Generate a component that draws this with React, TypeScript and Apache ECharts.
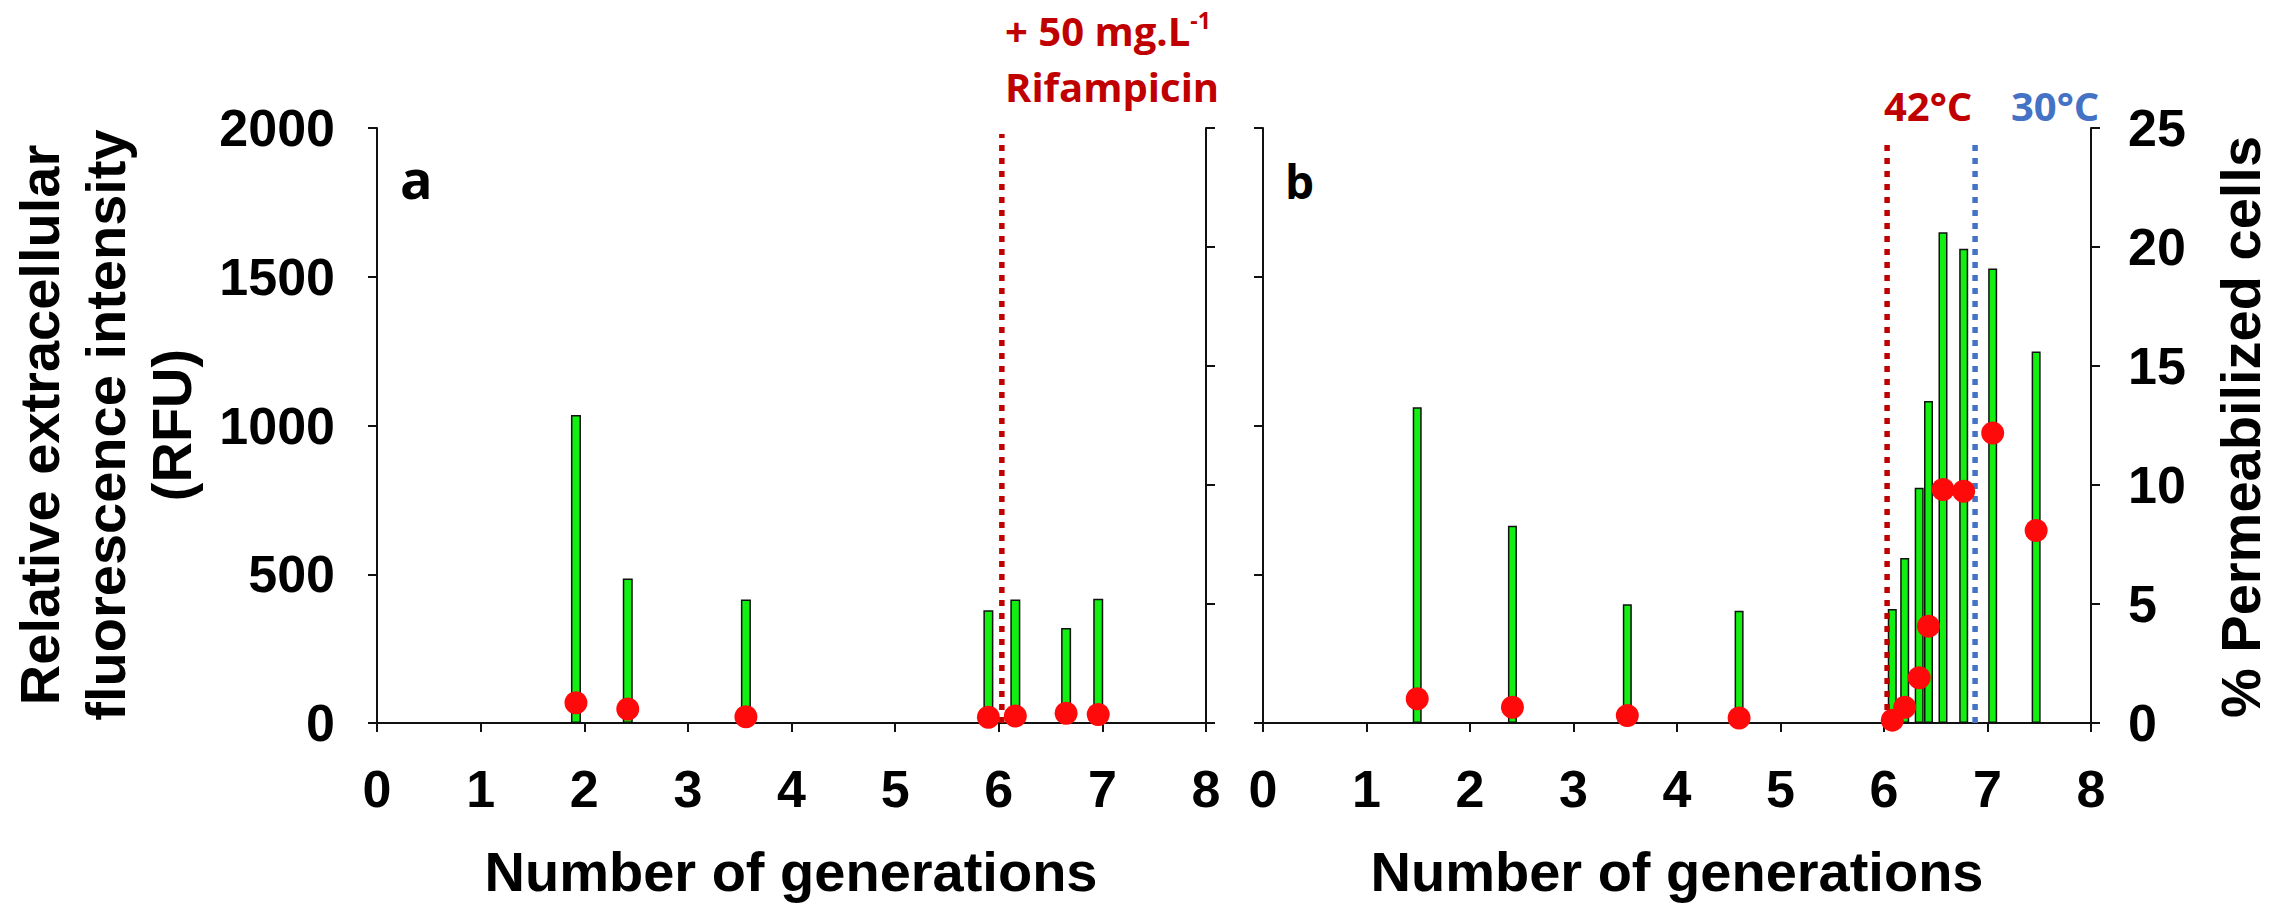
import React, { useEffect, useRef } from "react";
import * as echarts from "echarts";

// ---- data ----
const xTickMin = 0;
const xTickMax = 8;
const xTickStep = 1;
const rfuMin = 0;
const rfuMax = 2000;
const rfuStep = 500;
const permMin = 0;
const permMax = 25;
const permStep = 5;

// Panel a
const gensA = [1.92, 2.42, 3.56, 5.9, 6.16, 6.65, 6.96];
const rfuA = [1035, 486, 415, 379, 415, 319, 418];
const permA = [0.85, 0.59, 0.26, 0.24, 0.29, 0.41, 0.36];
const rifampicinGen = 6.03;

// Panel b
const gensB = [1.49, 2.41, 3.52, 4.6, 6.08, 6.2, 6.34, 6.43, 6.57, 6.77, 7.05, 7.47];
const rfuB = [1061, 663, 399, 377, 383, 555, 791, 1082, 1650, 1594, 1528, 1249];
const permB = [1.02, 0.66, 0.31, 0.21, 0.12, 0.66, 1.9, 4.07, 9.81, 9.74, 12.18, 8.09];
const shift42Gen = 6.03;
const shift30Gen = 6.88;

const xTitle = "Number of generations";
const yTitleLeft = "Relative extracellular\nfluorescence intensity\n(RFU)";
const yTitleRight = "% Permeabilized cells";

const ARIAL = "'Liberation Sans', Arial, sans-serif";
const CALIBRI = "'Open Sans', 'Noto Sans', sans-serif";
const RED = "#c00000";
const BLUE = "#4472c4";
const GREEN = "#12f012";
const DOT = "#ff0a0a";
const TICK_FONT = 52;

function axisCommon() {
  return {
    axisLine: { show: true, onZero: false, lineStyle: { color: "#111", width: 2 } },
    axisTick: { show: true, inside: false, length: 9, lineStyle: { color: "#111", width: 2 } },
    splitLine: { show: false },
  };
}

const plainNum = (v: number) => String(v);

export default function App() {
  const ref = useRef<HTMLDivElement>(null);
  useEffect(() => {
    if (!ref.current) return;
    const chart = echarts.init(ref.current, null, { renderer: "svg" });

    const grids = [
      { left: 377, top: 128, width: 829, height: 595 },
      { left: 1263, top: 128, width: 828, height: 595 },
    ];

    const xAxes = [0, 1].map((g) => ({
      type: "value",
      gridIndex: g,
      min: xTickMin,
      max: xTickMax,
      interval: xTickStep,
      ...axisCommon(),
      axisLabel: {
        show: true,
        margin: 40,
        formatter: plainNum,
        fontFamily: ARIAL,
        fontWeight: "bold",
        fontSize: TICK_FONT,
        color: "#000",
      },
    }));
    const topAxes = [0, 1].map((g) => ({
      type: "value",
      gridIndex: g,
      position: "top",
      min: xTickMin,
      max: xTickMax,
      axisLine: { show: true, lineStyle: { color: "#111", width: 2 } },
      axisTick: { show: false },
      axisLabel: { show: false },
      splitLine: { show: false },
    }));

    const yAxes = [
      {
        type: "value",
        gridIndex: 0,
        position: "left",
        min: rfuMin,
        max: rfuMax,
        interval: rfuStep,
        ...axisCommon(),
        axisLabel: { show: true, margin: 42, formatter: plainNum, fontFamily: ARIAL, fontWeight: "bold", fontSize: TICK_FONT, color: "#000" },
      },
      {
        type: "value",
        gridIndex: 0,
        position: "right",
        min: permMin,
        max: permMax,
        interval: permStep,
        ...axisCommon(),
        axisLabel: { show: false },
      },
      {
        type: "value",
        gridIndex: 1,
        position: "left",
        min: rfuMin,
        max: rfuMax,
        interval: rfuStep,
        ...axisCommon(),
        axisLabel: { show: false },
      },
      {
        type: "value",
        gridIndex: 1,
        position: "right",
        min: permMin,
        max: permMax,
        interval: permStep,
        ...axisCommon(),
        axisLabel: { show: true, margin: 37, formatter: plainNum, fontFamily: ARIAL, fontWeight: "bold", fontSize: TICK_FONT, color: "#000" },
      },
    ];

    const barStyle = { color: GREEN, borderColor: "#111", borderWidth: 1.5 };
    const dotStyle = { color: DOT, opacity: 1 };

    const vline = (xi: number, yi: number, gen: number, top: number, color: string) => ({
      type: "line",
      xAxisIndex: xi,
      yAxisIndex: yi,
      data: [
        [gen, rfuMin],
        [gen, top],
      ],
      symbol: "none",
      silent: true,
      z: 3,
      lineStyle: { color, width: 5.5, type: [6, 7] },
    });

    const annot = (text: string, x: number, y: number, color: string, size = 40) => ({
      type: "text",
      x,
      y,
      style: { text, fontFamily: CALIBRI, fontWeight: "bold", fontSize: size, fill: color, align: "left", verticalAlign: "middle" },
    });

    const option = {
      animation: false,
      backgroundColor: "#fff",
      grid: grids,
      xAxis: [...xAxes, ...topAxes],
      yAxis: yAxes,
      series: [
        {
          type: "bar",
          xAxisIndex: 0,
          yAxisIndex: 0,
          barWidth: 10,
          data: gensA.map((g, i) => [g, rfuA[i]]),
          itemStyle: barStyle,
          z: 2,
        },
        {
          type: "bar",
          xAxisIndex: 1,
          yAxisIndex: 2,
          barWidth: 9,
          data: gensB.map((g, i) => [g, rfuB[i]]),
          itemStyle: barStyle,
          z: 2,
        },
        vline(0, 0, rifampicinGen, 1980, RED),
        vline(1, 2, shift42Gen, 1950, RED),
        vline(1, 2, shift30Gen, 1950, BLUE),
        {
          type: "scatter",
          xAxisIndex: 0,
          yAxisIndex: 1,
          symbolSize: 23,
          data: gensA.map((g, i) => [g, permA[i]]),
          itemStyle: dotStyle,
          z: 5,
        },
        {
          type: "scatter",
          xAxisIndex: 1,
          yAxisIndex: 3,
          symbolSize: 23,
          data: gensB.map((g, i) => [g, permB[i]]),
          itemStyle: dotStyle,
          z: 5,
        },
      ],
      graphic: [
        {
          type: "text",
          x: 105,
          y: 425,
          rotation: Math.PI / 2,
          style: {
            text: yTitleLeft,
            fontFamily: ARIAL,
            fontWeight: "bold",
            fontSize: 56,
            lineHeight: 66,
            fill: "#000",
            align: "center",
            verticalAlign: "middle",
          },
        },
        {
          type: "text",
          x: 2240,
          y: 427,
          rotation: Math.PI / 2,
          style: {
            text: yTitleRight,
            fontFamily: ARIAL,
            fontWeight: "bold",
            fontSize: 56,
            fill: "#000",
            align: "center",
            verticalAlign: "middle",
          },
        },
        {
          type: "text",
          x: 791,
          y: 871,
          style: { text: xTitle, fontFamily: ARIAL, fontWeight: "bold", fontSize: 56, fill: "#000", align: "center", verticalAlign: "middle" },
        },
        {
          type: "text",
          x: 1677,
          y: 871,
          style: { text: xTitle, fontFamily: ARIAL, fontWeight: "bold", fontSize: 56, fill: "#000", align: "center", verticalAlign: "middle" },
        },
        {
          type: "text",
          x: 400,
          y: 178,
          style: { text: "a", fontFamily: CALIBRI, fontWeight: "bold", fontSize: 54, fill: "#000", align: "left", verticalAlign: "middle" },
        },
        {
          type: "text",
          x: 1285,
          y: 181,
          style: { text: "b", fontFamily: CALIBRI, fontWeight: "bold", fontSize: 46, fill: "#000", align: "left", verticalAlign: "middle" },
        },
        {
          type: "text",
          x: 1005,
          y: 30,
          style: {
            text: "{m|+ 50 mg.L}{s|-1}",
            fontFamily: CALIBRI,
            fontWeight: "bold",
            fill: RED,
            align: "left",
            verticalAlign: "middle",
            rich: {
              m: { fontFamily: CALIBRI, fontWeight: "bold", fontSize: 40, fill: RED, lineHeight: 44, verticalAlign: "middle" },
              s: { fontFamily: CALIBRI, fontWeight: "bold", fontSize: 23, fill: RED, lineHeight: 44, verticalAlign: "top" },
            },
          },
        },
        annot("Rifampicin", 1005, 86, RED),
        annot("42°C", 1884, 105, RED),
        annot("30°C", 2011, 105, BLUE),
      ],
    };

    chart.setOption(option as any);
    return () => chart.dispose();
  }, []);

  return (
    <div
      ref={ref}
      style={{ position: "absolute", left: 0, top: 0, width: 2280, height: 912 }}
    />
  );
}
